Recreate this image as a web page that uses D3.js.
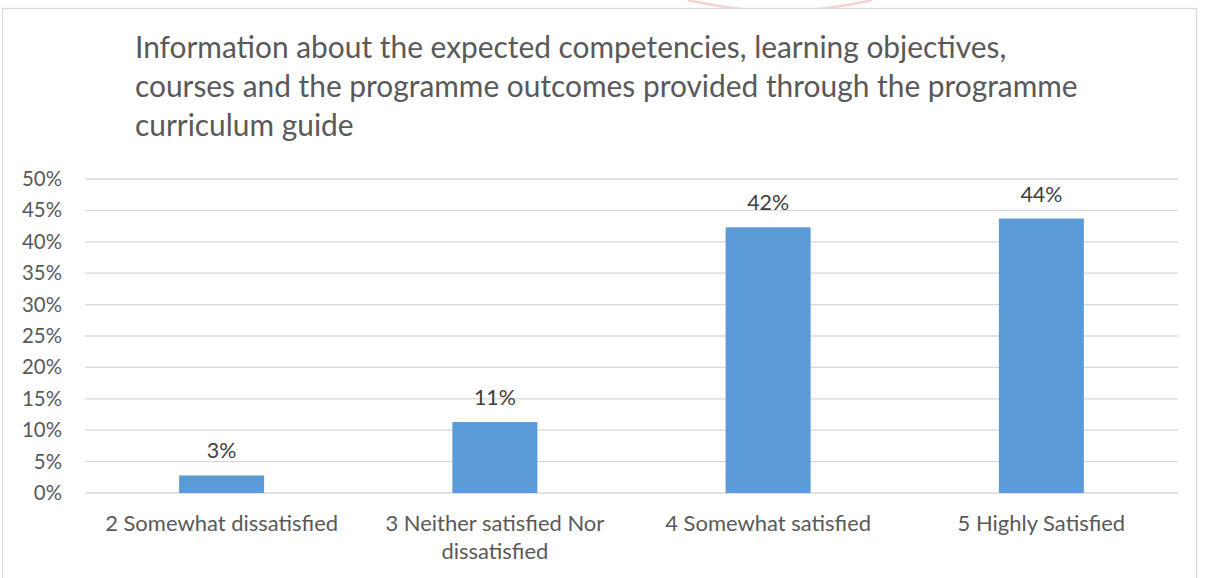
<!DOCTYPE html>
<html>
<head>
<meta charset="utf-8">
<script src="https://cdn.jsdelivr.net/npm/d3@7"></script>
<style>
  html, body { margin: 0; padding: 0; background: #ffffff; }
  svg { display: block; }
  text { font-family: Lato, "Open Sans", "Liberation Sans", sans-serif; }
</style>
</head>
<body>
<script>
// ---- data ----
const titleLines = [
  "Information about the expected competencies, learning objectives,",
  "courses and the programme outcomes provided through the programme",
  "curriculum guide"
];
const categories = [
  "2 Somewhat dissatisfied",
  "3 Neither satisfied Nor dissatisfied",
  "4 Somewhat satisfied",
  "5 Highly Satisfied"
];
const values = [0.028, 0.113, 0.423, 0.437];
const yTicks = [0, 0.05, 0.10, 0.15, 0.20, 0.25, 0.30, 0.35, 0.40, 0.45, 0.50];

// ---- layout ----
const W = 1208, H = 578;
const plot = { left: 85, right: 1178, top: 179, bottom: 493 };

const svg = d3.select("body").append("svg").attr("width", W).attr("height", H);

// faint watermark arc at top
svg.append("path")
  .attr("d", "M688,0 Q780,22 872,0")
  .attr("fill", "none").attr("stroke", "#f6d2d2").attr("stroke-width", 2.5);

// chart frame
svg.append("rect")
  .attr("x", 2.5).attr("y", 8.5).attr("width", 1194).attr("height", 600)
  .attr("fill", "#ffffff").attr("stroke", "#d9d9d9").attr("stroke-width", 1.3);

// helper to fit font size to a target width
function fitSize(sel, sample, target, base) {
  const t = sel.append("text").attr("font-size", base).text(sample);
  const w = t.node().getComputedTextLength();
  t.remove();
  return base * target / w;
}

const titleSize = fitSize(svg, titleLines[1], 943, 24);
const tickSize = fitSize(svg, "50%", 40, 18);
const catSize = fitSize(svg, categories[0], 233, 18);
const lblSize = fitSize(svg, "42%", 42, 18);

// title
const title = svg.append("g");
titleLines.forEach((line, i) => {
  title.append("text")
    .attr("x", 135).attr("y", 58 + i * 39)
    .attr("font-size", titleSize)
    .attr("fill", "#595959")
    .text(line);
});

// scales
const x = d3.scaleBand().domain(categories).range([plot.left, plot.right]).padding(0);
const y = d3.scaleLinear().domain([0, 0.5]).range([plot.bottom, plot.top]);
const barW = x.bandwidth() * 0.311;
const fmt = d3.format(".0%");

// gridlines
svg.append("g").selectAll("line").data(yTicks).join("line")
  .attr("x1", plot.left).attr("x2", plot.right)
  .attr("y1", d => y(d)).attr("y2", d => y(d))
  .attr("stroke", "#d9d9d9").attr("stroke-width", 1.3);

// y axis labels
const yAxis = svg.append("g")
  .attr("transform", `translate(${plot.left},0)`)
  .call(d3.axisLeft(y).tickValues(yTicks).tickFormat(fmt).tickSize(0).tickPadding(23));
yAxis.select(".domain").remove();
yAxis.selectAll("text")
  .attr("font-size", tickSize)
  .attr("font-family", "Lato, 'Open Sans', sans-serif")
  .attr("fill", "#595959");

// bars
svg.append("g").selectAll("rect").data(values).join("rect")
  .attr("x", (d, i) => x(categories[i]) + (x.bandwidth() - barW) / 2)
  .attr("width", barW)
  .attr("y", d => y(d))
  .attr("height", d => y(0) - y(d))
  .attr("fill", "#5b9bd5");

// data labels
svg.append("g").selectAll("text").data(values).join("text")
  .attr("x", (d, i) => x(categories[i]) + x.bandwidth() / 2)
  .attr("y", d => y(d) - 17)
  .attr("text-anchor", "middle")
  .attr("font-size", lblSize)
  .attr("fill", "#404040")
  .text(d => fmt(d));

// category labels (wrapped)
const xg = svg.append("g");
categories.forEach((c, i) => {
  const cx = x(c) + x.bandwidth() / 2;
  const t = xg.append("text")
    .attr("x", cx).attr("y", 531)
    .attr("text-anchor", "middle")
    .attr("font-size", catSize)
    .attr("fill", "#595959");
  const words = c.split(" ");
  let line = [], lineNo = 0;
  let tspan = t.append("tspan").attr("x", cx).attr("y", 531);
  words.forEach(w => {
    line.push(w);
    tspan.text(line.join(" "));
    if (tspan.node().getComputedTextLength() > x.bandwidth() - 20 && line.length > 1) {
      line.pop();
      tspan.text(line.join(" "));
      line = [w];
      lineNo++;
      tspan = t.append("tspan").attr("x", cx).attr("y", 531 + lineNo * 28).text(w);
    }
  });
});
</script>
</body>
</html>
